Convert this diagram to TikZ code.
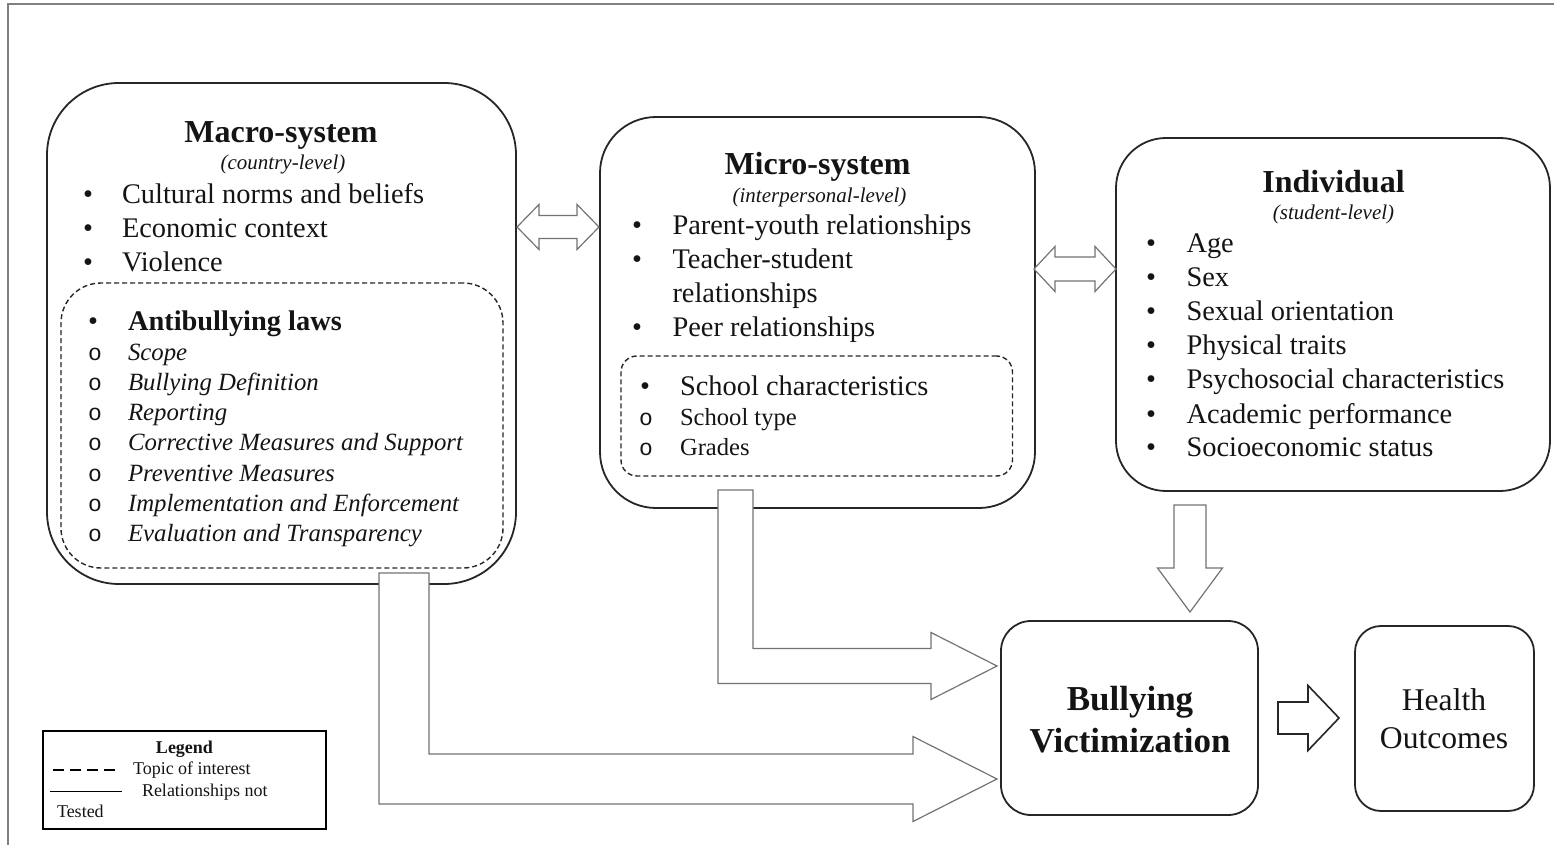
\documentclass[tikz,border=0pt]{standalone}
\usepackage{fontspec}
\setmainfont{Liberation Serif}
\newfontfamily\ringfont{Liberation Mono}
\begin{document}
\begin{tikzpicture}[x=0.5pt,y=-0.5pt]
\tikzset{
  frameline/.style={draw=black!50, line width=0.6pt},
  sysbox/.style={draw=black!85, line width=0.9pt, inner sep=0pt, outer sep=0pt},
  topicbox/.style={draw=black!85, line width=0.7pt, dash pattern=on 2.5pt off 1.5pt, inner sep=0pt, outer sep=0pt},
  blockarrow/.style={draw=black!55, line width=0.6pt, fill=white, line join=miter},
  txt/.style={inner sep=0pt, outer sep=0pt, text=black!92},
  titlef/.style={txt, anchor=base, font=\fontsize{16pt}{19pt}\selectfont\bfseries},
  levelf/.style={txt, anchor=base, font=\fontsize{10.5pt}{12pt}\selectfont\itshape},
  itemf/.style={txt, anchor=base west, font=\fontsize{14.2pt}{17pt}\selectfont},
  lawf/.style={txt, anchor=base west, font=\fontsize{12.4pt}{15pt}\selectfont\itshape},
  smallf/.style={txt, anchor=base west, font=\fontsize{12.3pt}{15pt}\selectfont},
  dotf/.style={txt, anchor=base, font=\fontsize{14.2pt}{17pt}\selectfont},
  ringf/.style={txt, anchor=base, font=\fontsize{11.5pt}{13pt}\ringfont},
  outcomef/.style={txt, anchor=base, font=\fontsize{17.5pt}{21pt}\selectfont\bfseries},
  healthf/.style={txt, anchor=base, font=\fontsize{15.8pt}{19pt}\selectfont},
  legendf/.style={txt, font=\fontsize{9pt}{11pt}\selectfont},
}
\useasboundingbox (0,0) rectangle (1554,845);
% page frame
\draw[frameline] (8,845) -- (8,4) -- (1554,4);

% system boxes
\node[sysbox, rounded corners=36pt, minimum width=234.5pt, minimum height=250.5pt] (macro) at (281.5,333.5) {};
\node[topicbox, rounded corners=20pt, minimum width=221pt, minimum height=142.5pt] (laws) at (282,425.5) {};
\node[sysbox, rounded corners=28pt, minimum width=217.5pt, minimum height=195.5pt] (micro) at (817.5,312.5) {};
\node[topicbox, rounded corners=8pt, minimum width=195.75pt, minimum height=60pt] (school) at (816.75,416) {};
\node[sysbox, rounded corners=25pt, minimum width=217pt, minimum height=176.5pt] (indiv) at (1333,314.5) {};
\node[sysbox, rounded corners=15pt, minimum width=128.5pt, minimum height=97pt] (bully) at (1129.5,718) {};
\node[sysbox, rounded corners=13pt, minimum width=89.5pt, minimum height=92.5pt] (health) at (1444.5,718.5) {};

% block arrows
\draw[blockarrow] (517,227) -- (539,204.5) -- (539,215.5) -- (577,215.5) -- (577,204.5) -- (599,227)
  -- (577,249.5) -- (577,238.5) -- (539,238.5) -- (539,249.5) -- cycle;
\draw[blockarrow] (1034,269) -- (1055,246.5) -- (1055,257) -- (1095,257) -- (1095,246.5) -- (1116,269)
  -- (1095,291.5) -- (1095,281) -- (1055,281) -- (1055,291.5) -- cycle;
\draw[blockarrow] (1174,505) -- (1206,505) -- (1206,568) -- (1222.5,568) -- (1190,612)
  -- (1157.5,568) -- (1174,568) -- cycle;
\draw[blockarrow, draw=black!85, line width=0.8pt] (1278,702) -- (1308,702) -- (1308,685.5) -- (1339,718) -- (1308,750.5)
  -- (1308,734) -- (1278,734) -- cycle;
\draw[blockarrow] (718,490) -- (718,683.5) -- (931,683.5) -- (931,699.5) -- (997,666)
  -- (931,632.5) -- (931,648.5) -- (753,648.5) -- (753,490) -- cycle;
\draw[blockarrow] (379,573) -- (379,804) -- (913,804) -- (913,821.5) -- (997,779)
  -- (913,736.5) -- (913,754) -- (429,754) -- (429,573) -- cycle;

% macro-system
\node[titlef] (macT) at (281,143) {Macro-system};
\node[levelf] (macL) at (283,170) {(country-level)};
\foreach \t [count=\i] in {Cultural norms and beliefs, Economic context, Violence}{
  \pgfmathsetmacro\yb{203.5+34*(\i-1)}
  \node[dotf] (macD\i) at (88,\yb) {•};
  \node[itemf] (mac\i) at (122,\yb) {\t};
}
\node[dotf] (lawD) at (93,331) {•};
\node[itemf, font=\fontsize{14.2pt}{17pt}\selectfont\bfseries] (lawT) at (128,331) {Antibullying laws};
\foreach \t [count=\i] in {Scope, Bullying Definition, Reporting, Corrective Measures and Support,
    Preventive Measures, Implementation and Enforcement, Evaluation and Transparency}{
  \pgfmathsetmacro\yb{361+30*(\i-1)}
  \node[ringf] (lawR\i) at (95,\yb) {o};
  \node[lawf] (law\i) at (128,\yb) {\t};
}

% micro-system
\node[titlef] (micT) at (817.5,175) {Micro-system};
\node[levelf] (micL) at (819.5,203) {(interpersonal-level)};
\node[dotf] (micD1) at (637,235) {•};
\node[itemf] (mic1) at (672.5,235) {Parent-youth relationships};
\node[dotf] (micD2) at (637,269) {•};
\node[itemf] (mic2) at (672.5,269) {Teacher-student};
\node[itemf] (mic2b) at (672.5,303) {relationships};
\node[dotf] (micD3) at (637,337) {•};
\node[itemf] (mic3) at (672.5,337) {Peer relationships};
\node[dotf] (schD) at (645,396) {•};
\node[itemf] (sch) at (680,396) {School characteristics};
\node[ringf] (schR1) at (646,425) {o};
\node[smallf] (sch1) at (680,425) {School type};
\node[ringf] (schR2) at (646,455) {o};
\node[smallf] (sch2) at (680,455) {Grades};

% individual
\node[titlef] (indT) at (1333.5,193) {Individual};
\node[levelf] (indL) at (1333.5,220) {(student-level)};
\foreach \t [count=\i] in {Age, Sex, Sexual orientation, Physical traits, Psychosocial characteristics,
    Academic performance, Socioeconomic status}{
  \pgfmathsetmacro\yb{253+34*(\i-1)}
  \node[dotf] (indD\i) at (1151,\yb) {•};
  \node[itemf] (ind\i) at (1186.5,\yb) {\t};
}

% outcomes
\node[outcomef] (bv1) at (1130,710) {Bullying};
\node[outcomef] (bv2) at (1130,752) {Victimization};
\node[healthf] (ho1) at (1444,710) {Health};
\node[healthf] (ho2) at (1444,748) {Outcomes};

% legend
\node[draw=black, line width=0.75pt, inner sep=0pt, minimum width=141.5pt, minimum height=49pt] (legend) at (184.5,780) {};
\node[legendf, anchor=base, font=\fontsize{9pt}{11pt}\selectfont\bfseries] (legT) at (184.5,753) {Legend};
\draw[line width=1.25pt, dash pattern=on 5.5pt off 3pt] (53,770) -- (118,770);
\node[legendf, anchor=base west] (leg1) at (133,774) {Topic of interest};
\draw[line width=0.5pt] (50,791) -- (122,791);
\node[legendf, anchor=base west] (leg2) at (142,796) {Relationships not};
\node[legendf, anchor=base west] (leg3) at (57,817) {Tested};
\end{tikzpicture}
\end{document}
